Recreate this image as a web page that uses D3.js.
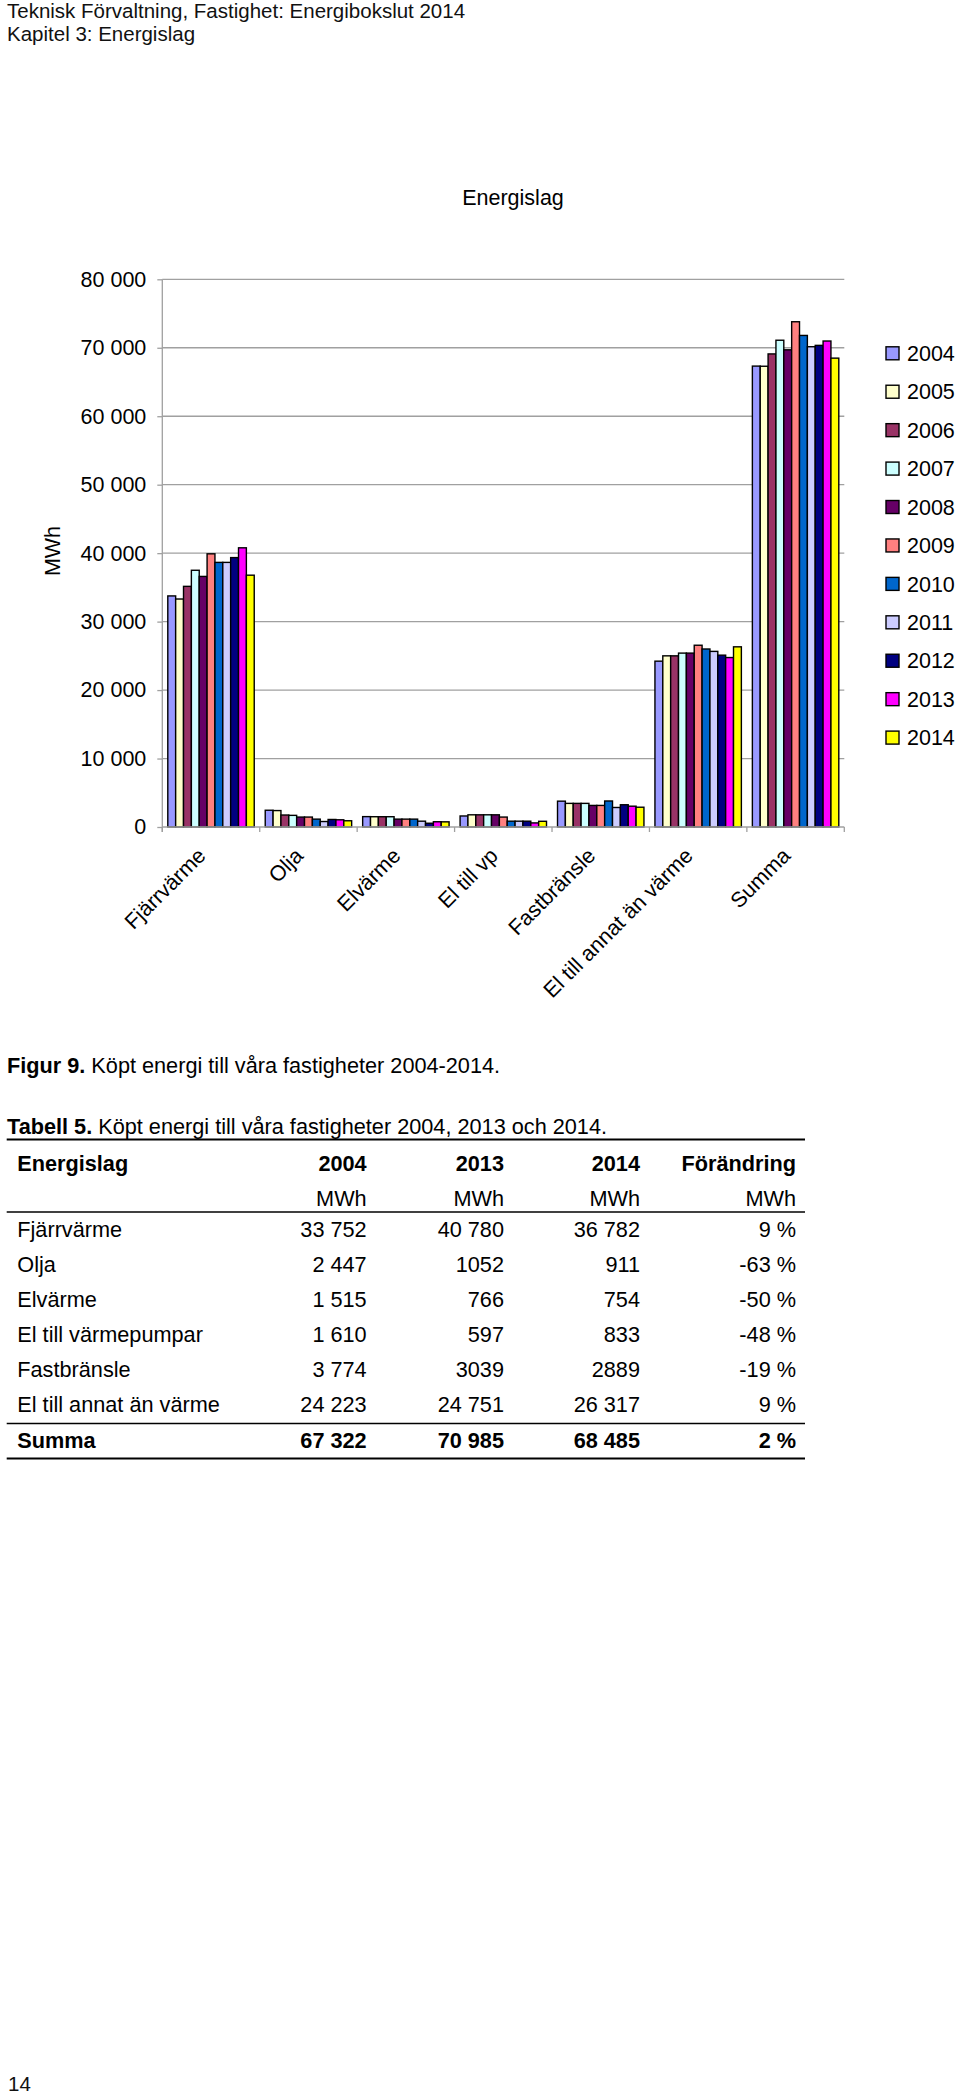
<!DOCTYPE html>
<html>
<head>
<meta charset="utf-8">
<script src="https://cdn.jsdelivr.net/npm/d3@7"></script>
<style>
  html, body { margin: 0; padding: 0; background: #fff; }
  svg { display: block; font-family: "Liberation Sans", Arial, sans-serif; }
</style>
</head>
<body>
<svg id="page" width="960" height="2099"></svg>
<script>
// ---------- DATA ----------
const categories = ["Fjärrvärme", "Olja", "Elvärme", "El till vp", "Fastbränsle", "El till annat än värme", "Summa"];
const years = ["2004", "2005", "2006", "2007", "2008", "2009", "2010", "2011", "2012", "2013", "2014"];
const colors = ["#9999FF", "#FFFFCC", "#993366", "#CCFFFF", "#660066", "#FF8080", "#0066CC", "#CCCCFF", "#000080", "#FF00FF", "#FFFF00"];

// values per category, one per year (2004..2014)
const fjarrvarme = [33752, 33300, 35150, 37500, 36600, 39900, 38650, 38650, 39350, 40780, 36782];
const olja       = [2447, 2400, 1750, 1700, 1450, 1450, 1150, 800, 1100, 1052, 911];
const elvarme    = [1515, 1500, 1500, 1500, 1150, 1150, 1150, 850, 550, 766, 754];
const elTillVp   = [1610, 1780, 1780, 1780, 1780, 1450, 850, 850, 850, 597, 833];
const fastbransle= [3774, 3450, 3450, 3450, 3150, 3150, 3800, 2850, 3250, 3039, 2889];
const elAnnat    = [24223, 25000, 25000, 25400, 25400, 26550, 26000, 25650, 25100, 24751, 26317];
const summa      = [67322, 67300, 69100, 71100, 69700, 73800, 71800, 70150, 70350, 70985, 68485];
const seriesByCategory = [fjarrvarme, olja, elvarme, elTillVp, fastbransle, elAnnat, summa];

const yTicks = [0, 10000, 20000, 30000, 40000, 50000, 60000, 70000, 80000];

// table data
const tableRows    = ["Fjärrvärme", "Olja", "Elvärme", "El till värmepumpar", "Fastbränsle", "El till annat än värme"];
const table2004    = ["33 752", "2 447", "1 515", "1 610", "3 774", "24 223"];
const table2013    = ["40 780", "1052", "766", "597", "3039", "24 751"];
const table2014    = ["36 782", "911", "754", "833", "2889", "26 317"];
const tableChange  = ["9 %", "-63 %", "-50 %", "-48 %", "-19 %", "9 %"];
const tableSum     = ["Summa", "67 322", "70 985", "68 485", "2 %"];
const tableHeader  = ["Energislag", "2004", "2013", "2014", "Förändring"];
const tableUnits   = ["", "MWh", "MWh", "MWh", "MWh"];

// ---------- DRAW ----------
const svg = d3.select("#page");

// page header
svg.append("text").attr("x", 7).attr("y", 18).attr("font-size", 20.5).attr("fill", "#111")
  .text("Teknisk Förvaltning, Fastighet: Energibokslut 2014");
svg.append("text").attr("x", 7).attr("y", 41).attr("font-size", 20.5).attr("fill", "#111")
  .text("Kapitel 3: Energislag");

// chart geometry
const plotLeft = 162.3, plotRight = 844.3, plotTop = 279.3, plotBottom = 827;
const x = d3.scaleBand().domain(categories).range([plotLeft, plotRight]).padding(0);
const xInner = d3.scaleBand().domain(years).range([0, x.bandwidth()]).paddingInner(0).paddingOuter(0.7);
const y = d3.scaleLinear().domain([0, 80000]).range([plotBottom, plotTop]);

const fs = 21.5;

// title
svg.append("text").attr("x", 513).attr("y", 205).attr("text-anchor", "middle")
  .attr("font-size", fs).attr("fill", "#000").text("Energislag");

// gridlines
svg.append("g").selectAll("line").data(yTicks.filter(d => d > 0)).join("line")
  .attr("x1", plotLeft).attr("x2", plotRight)
  .attr("y1", d => y(d)).attr("y2", d => y(d))
  .attr("stroke", "#a0a0a0").attr("stroke-width", 1.3);

// y axis
const yAxis = d3.axisLeft(y).tickValues(yTicks).tickSize(5).tickPadding(11)
  .tickFormat(d => d3.format(",")(d).replace(/,/g, " "));
const gy = svg.append("g").attr("transform", `translate(${plotLeft},0)`).call(yAxis);
gy.select(".domain").attr("stroke", "#a0a0a0").attr("stroke-width", 1.3)
  .attr("d", `M0,${plotTop}V${plotBottom + 5}`);
gy.selectAll(".tick line").attr("stroke", "#a0a0a0").attr("stroke-width", 1.3);
gy.selectAll(".tick text").attr("font-size", fs).attr("fill", "#000")
  .attr("font-family", "'Liberation Sans', Arial, sans-serif");

// y axis label
svg.append("text").attr("transform", `translate(52,551) rotate(-90)`).attr("text-anchor", "middle")
  .attr("dy", "0.35em").attr("font-size", fs).attr("fill", "#000").text("MWh");

// bars
const groups = svg.append("g").selectAll("g").data(categories).join("g")
  .attr("transform", d => `translate(${x(d)},0)`);
groups.each(function(cat, ci) {
  const vals = seriesByCategory[ci];
  d3.select(this).selectAll("rect").data(years).join("rect")
    .attr("x", yr => xInner(yr))
    .attr("width", xInner.bandwidth())
    .attr("y", (yr, i) => y(vals[i]))
    .attr("height", (yr, i) => plotBottom - y(vals[i]))
    .attr("fill", (yr, i) => colors[i])
    .attr("stroke", "#000").attr("stroke-width", 1.4);
});

// x axis
const gx = svg.append("g");
gx.append("line").attr("x1", plotLeft).attr("x2", plotRight).attr("y1", plotBottom).attr("y2", plotBottom)
  .attr("stroke", "#a0a0a0").attr("stroke-width", 1.3);
const boundaries = categories.map(c => x(c)).concat([plotRight]);
gx.selectAll("line.tk").data(boundaries).join("line").attr("class", "tk")
  .attr("x1", d => d).attr("x2", d => d).attr("y1", plotBottom).attr("y2", plotBottom + 5)
  .attr("stroke", "#a0a0a0").attr("stroke-width", 1.3);
gx.selectAll("text").data(categories).join("text")
  .attr("transform", d => `translate(${x(d) + x.bandwidth() / 2 - 4},857) rotate(-45)`)
  .attr("text-anchor", "end").attr("font-size", fs).attr("fill", "#000").text(d => d);

// legend
const legend = svg.append("g").selectAll("g").data(years).join("g")
  .attr("transform", (d, i) => `translate(886,${353.3 + i * 38.43})`);
legend.append("rect").attr("x", 0).attr("y", -6.5).attr("width", 13).attr("height", 13)
  .attr("fill", (d, i) => colors[i]).attr("stroke", "#000").attr("stroke-width", 1.4);
legend.append("text").attr("x", 21).attr("y", 0).attr("dy", "0.36em")
  .attr("font-size", fs).attr("fill", "#000").text(d => d);

// caption
const tfs = 21.7;
const cap = svg.append("text").attr("x", 7).attr("y", 1073.3).attr("font-size", tfs).attr("fill", "#000");
cap.append("tspan").attr("font-weight", "bold").text("Figur 9.");
cap.append("tspan").text(" Köpt energi till våra fastigheter 2004-2014.");

const cap2 = svg.append("text").attr("x", 7).attr("y", 1134).attr("font-size", tfs).attr("fill", "#000");
cap2.append("tspan").attr("font-weight", "bold").text("Tabell 5.");
cap2.append("tspan").text(" Köpt energi till våra fastigheter 2004, 2013 och 2014.");

// table
const colX = [17.3, 366.7, 504, 640, 796];
const colAnchor = ["start", "end", "end", "end", "end"];
const tLeft = 6.7, tRight = 805;
function hline(yy, w) {
  svg.append("line").attr("x1", tLeft).attr("x2", tRight).attr("y1", yy).attr("y2", yy)
    .attr("stroke", "#000").attr("stroke-width", w);
}
hline(1139.5, 2);
function row(cells, yy, bold) {
  svg.append("g").selectAll("text").data(cells).join("text")
    .attr("x", (d, i) => colX[i]).attr("y", yy).attr("text-anchor", (d, i) => colAnchor[i])
    .attr("font-size", tfs).attr("font-weight", bold ? "bold" : "normal").attr("fill", "#000")
    .text(d => d);
}
row(tableHeader, 1170.7, true);
row(tableUnits, 1205.7, false);
hline(1212, 1.6);
tableRows.forEach((r, i) => {
  row([r, table2004[i], table2013[i], table2014[i], tableChange[i]], 1236.7 + i * 35, false);
});
hline(1423.5, 1.6);
row(tableSum, 1448.3, true);
hline(1458.5, 2);

// page number
svg.append("text").attr("x", 8).attr("y", 2091).attr("font-size", 20.5).attr("fill", "#111").text("14");
</script>
</body>
</html>
